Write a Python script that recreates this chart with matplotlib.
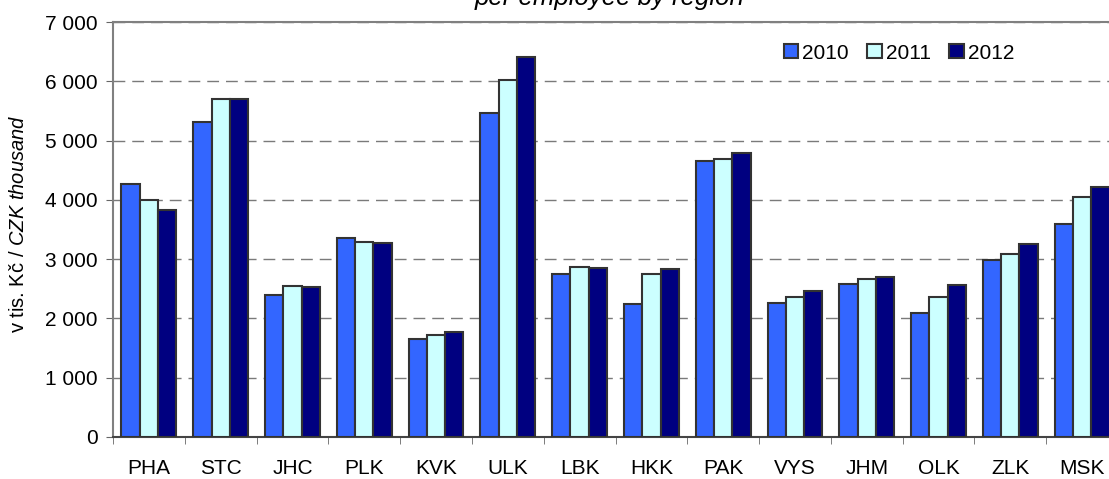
import numpy as np
import matplotlib.pyplot as plt
from matplotlib.ticker import FuncFormatter

plt.rcParams['font.family'] = ['Liberation Sans', 'DejaVu Sans']
plt.rcParams['mathtext.fontset'] = 'custom'
plt.rcParams['mathtext.it'] = 'Liberation Sans:italic'
plt.rcParams['mathtext.rm'] = 'Liberation Sans'

regions = ['PHA', 'STC', 'JHC', 'PLK', 'KVK', 'ULK', 'LBK',
           'HKK', 'PAK', 'VYS', 'JHM', 'OLK', 'ZLK', 'MSK']
years = ['2010', '2011', '2012']
v2010 = [4260, 5317, 2390, 3356, 1653, 5459, 2743, 2238, 4654, 2265, 2580, 2096, 2980, 3592]
v2011 = [4000, 5694, 2546, 3283, 1715, 6015, 2872, 2754, 4683, 2356, 2664, 2366, 3091, 4052]
v2012 = [3823, 5700, 2524, 3266, 1771, 6408, 2845, 2828, 4784, 2468, 2698, 2558, 3255, 4216]
colors = ['#3366ff', '#ccffff', '#000080']

fig = plt.figure(figsize=(11.09, 4.79), dpi=100)
ax = fig.add_axes([113 / 1109, (479 - 437) / 479, 1005 / 1109, 415 / 479])

x = np.arange(len(regions))
w = 0.255
for i, (vals, yr) in enumerate(zip([v2010, v2011, v2012], years)):
    ax.bar(x + (i - 1) * w, vals, w, color=colors[i], edgecolor='#333333',
           linewidth=1.5, label=yr, zorder=3)

ax.set_xlim(-0.5, len(regions) - 0.5)
ax.set_ylim(0, 7000)
ax.set_yticks(np.arange(0, 7001, 1000))
ax.yaxis.set_major_formatter(FuncFormatter(lambda v, p: f'{int(v):,}'.replace(',', ' ')))
ax.yaxis.grid(True, linestyle=(0, (8.5, 5)), color='#7a7a7a', linewidth=1, zorder=0)

ax.set_xticks(x)
ax.set_xticklabels(regions)
ax.set_xticks(np.arange(-0.5, len(regions), 1), minor=True)
ax.tick_params(axis='x', which='major', length=0, pad=15.5, labelsize=15)
ax.tick_params(axis='x', which='minor', length=5, color='#666666')
ax.tick_params(axis='y', length=5, color='#666666', labelsize=15, pad=6)

for s in ['left', 'top']:
    ax.spines[s].set_color('#808080')
    ax.spines[s].set_linewidth(1.5)
ax.spines['right'].set_visible(False)
ax.spines['bottom'].set_color('#444444')
ax.spines['bottom'].set_linewidth(1.5)

ax.set_ylabel(r'v tis. Kč / $\it{CZK\ thousand}$', fontsize=14.5)
ax.yaxis.set_label_coords(-0.085, 0.513)

leg = ax.legend(loc='center left', bbox_to_anchor=(0.657, 0.925), ncol=3, frameon=False,
                fontsize=15, borderpad=0, handlelength=0.68, handleheight=0.65,
                handletextpad=0.2, columnspacing=0.9)

# title sits mostly above the visible area
fig.text(0.5496, 1 - 5 / 479, 'per employee by region', ha='center', va='baseline',
         fontsize=18.5, style='italic')

fig.savefig('out.png', dpi=100)
